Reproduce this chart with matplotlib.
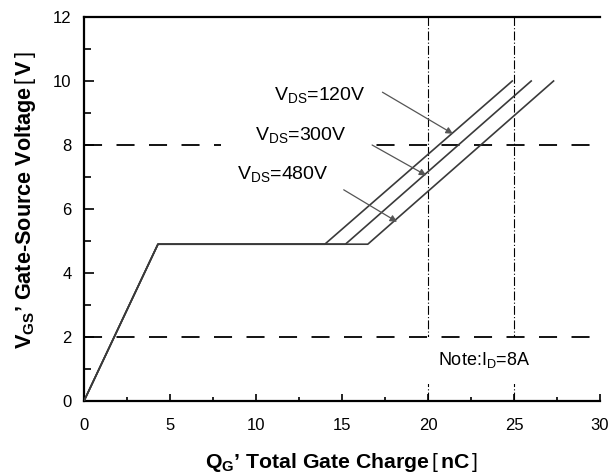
import numpy as np
import matplotlib
matplotlib.use("Agg")
import matplotlib.pyplot as plt
from matplotlib.patches import Rectangle
from matplotlib.ticker import MultipleLocator

plt.rcParams['font.family'] = 'Liberation Sans'
plt.rcParams['mathtext.fontset'] = 'custom'
plt.rcParams['mathtext.rm'] = 'Liberation Sans'
plt.rcParams['mathtext.it'] = 'Liberation Sans:italic'
plt.rcParams['mathtext.bf'] = 'Liberation Sans:bold'

# gate charge curves (Qg in nC, Vgs in V)
qg_120 = [0, 4.3, 14.0, 24.9]
qg_300 = [0, 4.3, 15.2, 26.0]
qg_480 = [0, 4.3, 16.5, 27.3]
vgs_curve = [0, 4.9, 4.9, 10.0]

curve_labels = ['$\\mathrm{V_{DS}}$=120V', '$\\mathrm{V_{DS}}$=300V', '$\\mathrm{V_{DS}}$=480V']
label_pos = [(11.05, 9.55), (9.95, 8.3), (8.9, 7.1)]
arrow_from = [(17.35, 9.65), (16.75, 8.0), (15.1, 6.6)]
arrow_to = [(21.45, 8.35), (19.9, 7.05), (18.2, 5.6)]

ref_vgs = [8, 2]
ref_qg = [20, 25]

fig = plt.figure(figsize=(6.11, 4.76), dpi=100)
ax = fig.add_axes([84 / 611, 1 - 401 / 476, 516 / 611, 384 / 476])

for qg in (qg_120, qg_300, qg_480):
    ax.plot(qg, vgs_curve, color='#3a3a3a', lw=1.2, zorder=4)

for v in ref_vgs:
    ax.axhline(v, color='black', lw=1.3, linestyle=(0, (10, 8)), zorder=3)
for q in ref_qg:
    ax.axvline(q, color='black', lw=0.8, linestyle=(0, (8, 2, 1, 2)), zorder=1)

# white area behind the labels, hides part of the 8 V line
ax.add_patch(Rectangle((7.95, 7.8), 8.7, 0.4, facecolor='white', edgecolor='none', zorder=3.5))

for txt, (x, y) in zip(curve_labels, label_pos):
    ax.text(x, y, txt, fontsize=14, ha='left', va='center', zorder=5)
for a, b in zip(arrow_from, arrow_to):
    ax.annotate('', xy=b, xytext=a,
                arrowprops=dict(arrowstyle='-|>', color='#555555', lw=0.9,
                                mutation_scale=10, shrinkA=0, shrinkB=0),
                zorder=5)

ax.text(20.6, 1.27, 'Note:$\\mathrm{I_D}$=8A', fontsize=13, ha='left', va='center',
        bbox=dict(boxstyle='square,pad=0.75', facecolor='white', edgecolor='none'),
        zorder=2)

ax.set_xlim(0, 30)
ax.set_ylim(0, 12)
ax.xaxis.set_major_locator(MultipleLocator(5))
ax.xaxis.set_minor_locator(MultipleLocator(2.5))
ax.yaxis.set_major_locator(MultipleLocator(2))
ax.yaxis.set_minor_locator(MultipleLocator(1))
ax.tick_params(axis='x', which='major', direction='in', length=5, width=1.2, labelsize=12, pad=12)
ax.tick_params(axis='x', which='minor', direction='in', length=3, width=1.2)
ax.tick_params(axis='y', which='major', direction='in', length=7, width=1.2, labelsize=12, pad=9)
ax.tick_params(axis='y', which='minor', direction='in', length=5, width=1.2)

ax.spines['right'].set_visible(False)
for s in ('left', 'bottom', 'top'):
    ax.spines[s].set_linewidth(1.6)

ax.set_xlabel('Q$_\\mathbf{G}$\u2019 Total Gate Charge$\\,\\mathrm{[}\\,$nC$\\,\\mathrm{]}$',
              fontsize=15.3, fontweight='bold')
ax.set_ylabel('V$_\\mathbf{GS}$\u2019 Gate-Source Voltage$\\,\\mathrm{[}\\,$V$\\,\\mathrm{]}$',
              fontsize=15.6, fontweight='bold')
ax.xaxis.set_label_coords(0.5, -0.13)
ax.yaxis.set_label_coords(-0.09, 0.523)

fig.savefig('out.png', dpi=100)
